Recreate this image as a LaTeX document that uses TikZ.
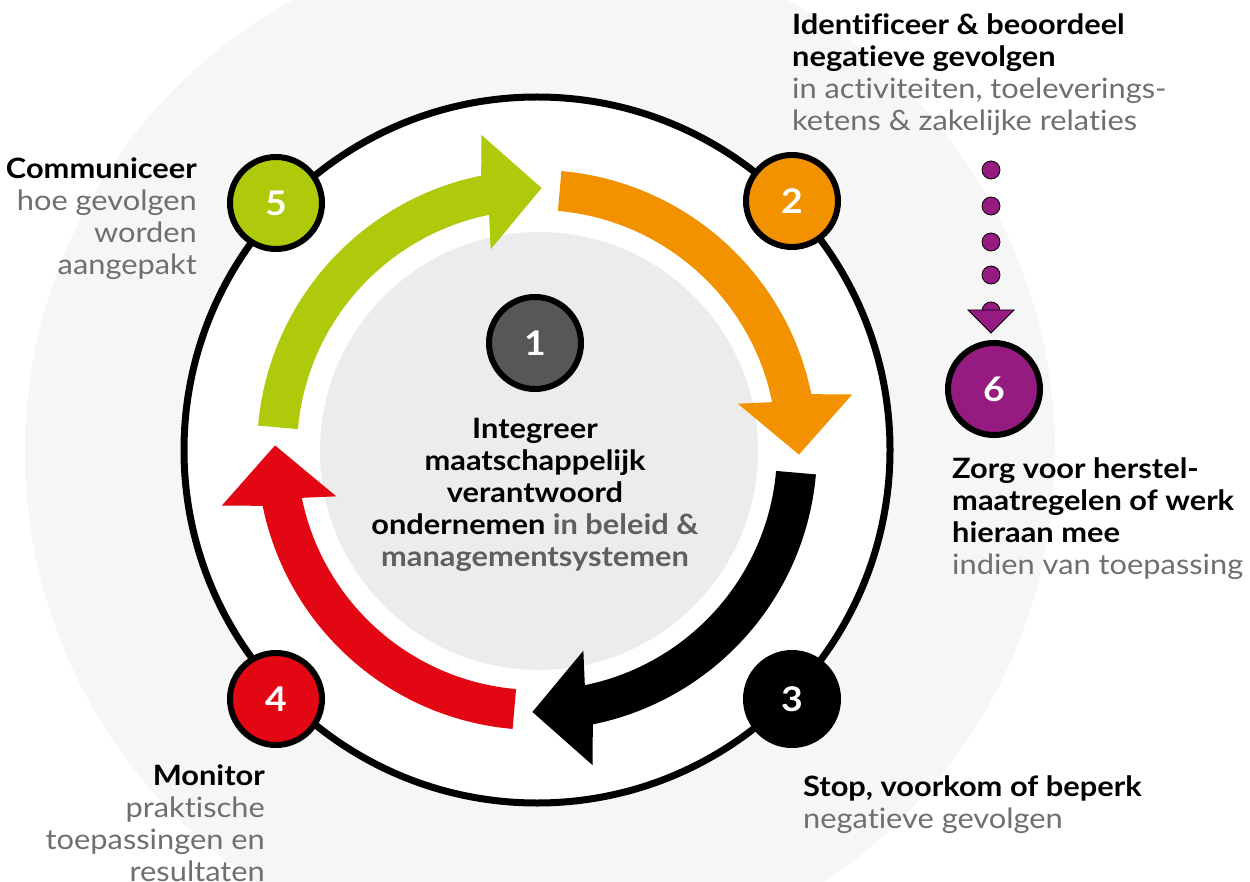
\documentclass[tikz,border=0pt]{standalone}
\usepackage{fontspec}
\setmainfont{Lato}[FakeStretch=1.1, Ligatures=NoCommon]
\definecolor{greenA}{HTML}{AFCA0B}
\definecolor{orangeA}{HTML}{F39200}
\definecolor{redA}{HTML}{E30613}
\definecolor{purpleA}{HTML}{951B81}
\definecolor{greyA}{HTML}{575756}
\definecolor{bggrey}{HTML}{F6F6F6}
\definecolor{innergrey}{HTML}{ECECEC}
\definecolor{desc}{HTML}{706F6F}
\definecolor{midgrey}{HTML}{5F5F5F}
\newcommand\cyclearrow[2]{%
  \fill[#2] ({#1+85}:280) arc[start angle={#1+85}, end angle={#1+11.5}, radius=280]
    -- ({#1+10}:320) -- ({#1-1}:262) -- ({#1+13}:206) -- ({#1+11.5}:240)
    arc[start angle={#1+11.5}, end angle={#1+85}, radius=240] -- cycle;}
\tikzset{
  numc/.style={circle, draw=black, line width=6pt, minimum size=92pt, inner sep=0pt,
    text=white, font=\fontsize{34}{34}\selectfont\bfseries},
  txt/.style={inner sep=0pt, font=\fontsize{28}{32}\selectfont, text=black},
  dotst/.style={fill=purpleA, draw=black, line width=0.8pt},
}
\begin{document}
\begin{tikzpicture}[x=1pt,y=1pt]
\useasboundingbox (0,0) rectangle (1250,-882);
\fill[white] (0,0) rectangle (1250,-882);
\fill[bggrey] (540,-452) circle (515);
\coordinate (C) at (537,-450);
\draw[line width=7pt, fill=white] (C) circle (353);
\fill[innergrey] (539,-451) circle (219);
\begin{scope}[shift={(C)}]
  \cyclearrow{90}{greenA}
  \cyclearrow{0}{orangeA}
  \cyclearrow{-90}{black}
  \cyclearrow{180}{redA}
\end{scope}
\node[numc, fill=greyA] (n1) at (535,-343) {1};
\node[numc, fill=orangeA] (n2) at (792,-201) {2};
\node[numc, fill=black] (n3) at (792,-699) {3};
\node[numc, fill=redA] (n4) at (276,-699) {4};
\node[numc, fill=greenA] (n5) at (276,-203) {5};
\node[numc, fill=purpleA] (n6) at (994,-389) {6};
% dotted arrow from 2 to 6
\foreach \yy in {170,206,242,275} \filldraw[dotst] (991,-\yy) circle (9);
\filldraw[dotst] (991,-311) circle (9);
\filldraw[dotst] (968,-310) -- (1014,-310) -- (991,-333) -- cycle;
% texts (anchor = baseline of last line)
\node[txt, anchor=base, align=center] (t1) at (535,-566)
  {\bfseries Integreer\\\bfseries maatschappelijk\\\bfseries verantwoord\\\bfseries ondernemen \textcolor{midgrey}{in beleid \&}\\\bfseries\textcolor{midgrey}{managementsystemen}};
\node[txt, anchor=base west, align=left] (t2) at (792,-131)
  {\textbf{Identificeer \& beoordeel}\\\textbf{negatieve gevolgen}\\\textcolor{desc}{in activiteiten, toeleverings-}\\\textcolor{desc}{ketens \& zakelijke relaties}};
\node[txt, anchor=base west, align=left] (t3) at (803,-828)
  {\textbf{Stop, voorkom of beperk}\\\textcolor{desc}{negatieve gevolgen}};
\node[txt, anchor=base east, align=right] (t4) at (265,-881)
  {\textbf{Monitor}\\\textcolor{desc}{praktische}\\\textcolor{desc}{toepassingen en}\\\textcolor{desc}{resultaten}};
\node[txt, anchor=base east, align=right] (t5) at (197,-275)
  {\textbf{Communiceer}\\\textcolor{desc}{hoe gevolgen}\\\textcolor{desc}{worden}\\\textcolor{desc}{aangepakt}};
\node[txt, anchor=base west, align=left] (t6) at (952,-574)
  {\textbf{Zorg voor herstel-}\\\textbf{maatregelen of werk}\\\textbf{hieraan mee}\\\textcolor{desc}{indien van toepassing}};
\end{tikzpicture}
\end{document}
